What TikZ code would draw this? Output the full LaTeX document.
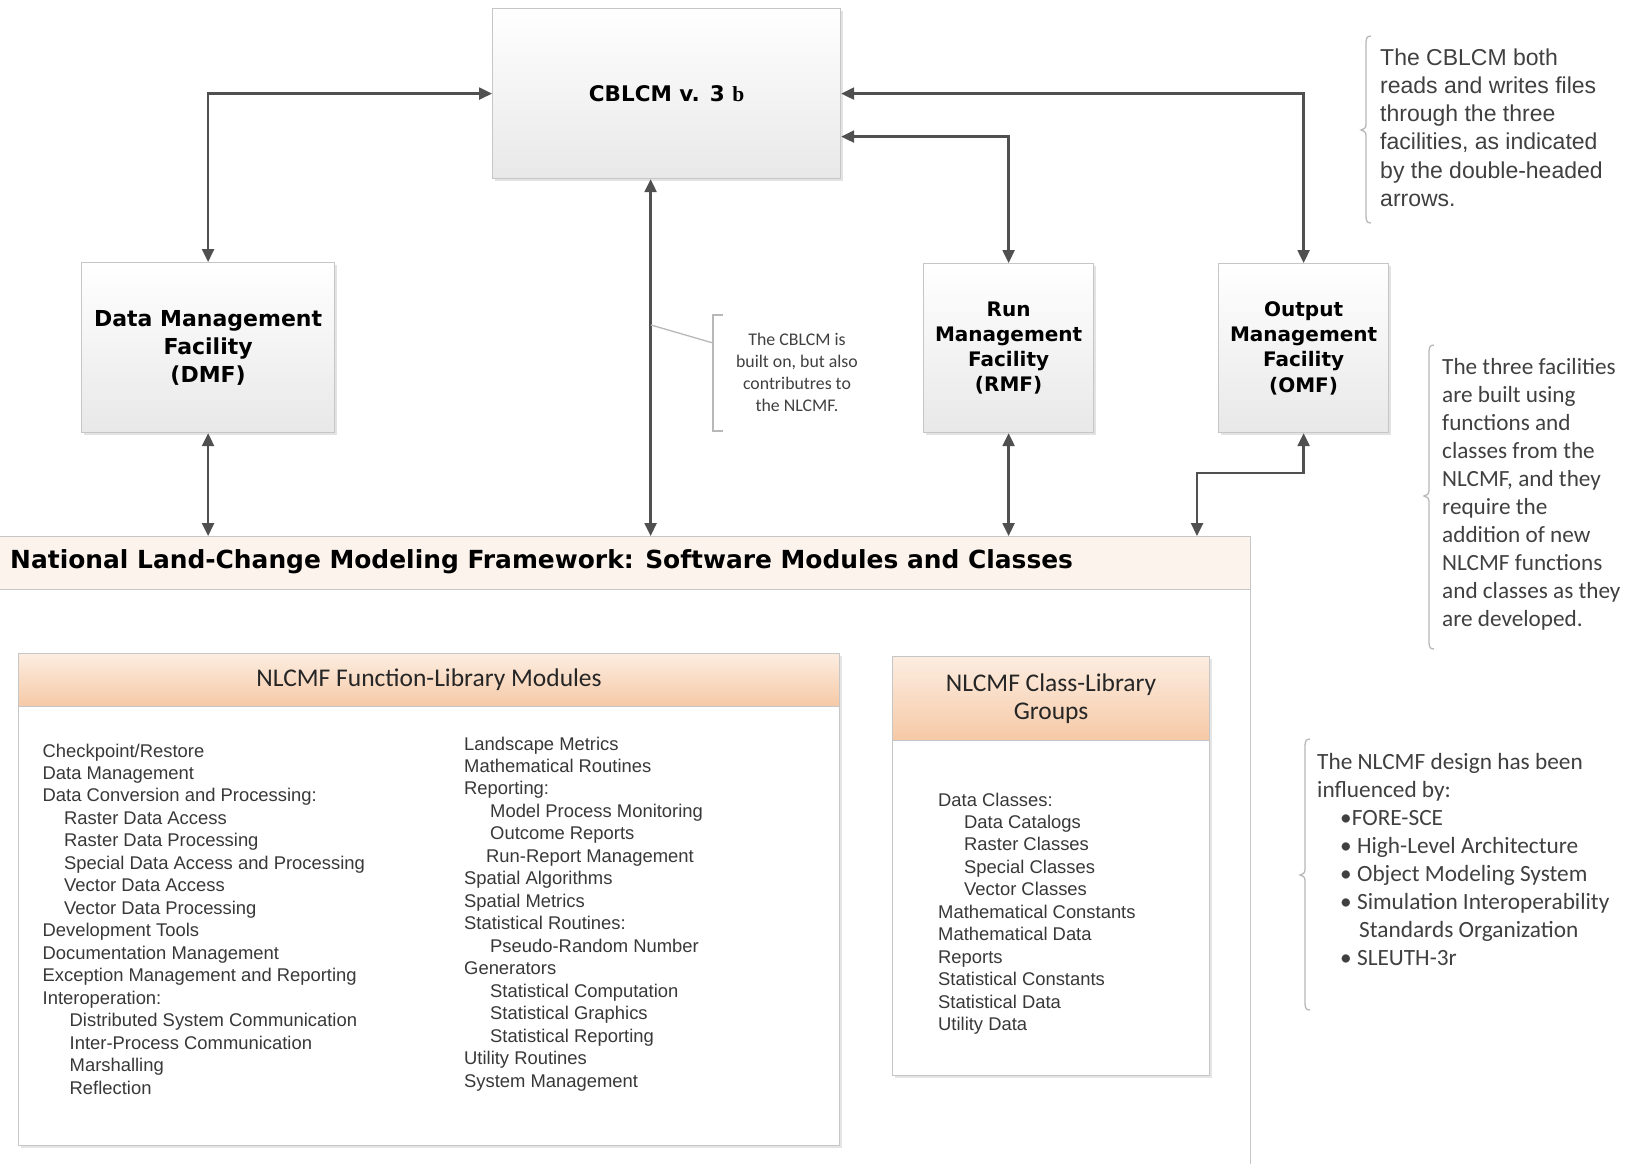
\documentclass[tikz,border=0pt]{standalone}
\usepackage{fontspec}
\setmainfont{Liberation Sans}
\newfontfamily\boldfam{DejaVu Sans}
\newfontfamily\calib{Carlito}
\newfontfamily\serifam{Liberation Serif}
\usetikzlibrary{arrows.meta,shadows,calc}
\definecolor{arrowgray}{HTML}{505050}
\definecolor{boxline}{HTML}{C6C6C6}
\definecolor{peachtop}{HTML}{FCEDE1}
\definecolor{peachbot}{HTML}{F6C9A6}
\definecolor{headerpeach}{HTML}{FCF3EC}
\definecolor{txtgray}{HTML}{383838}
\definecolor{notegray}{HTML}{404040}
\definecolor{bracegray}{HTML}{B8B8B8}
\newcommand\mybrace[4]{%
  \draw[bracegray, line width=1.3pt] (#1+10,#2) .. controls (#1+5,#2) and (#1+5,#2+3) .. (#1+5,#2+10)
    -- (#1+5,#3-9) .. controls (#1+5,#3-2) .. (#1,#3) .. controls (#1+5,#3+2) .. (#1+5,#3+9)
    -- (#1+5,#4-10) .. controls (#1+5,#4-3) and (#1+5,#4) .. (#1+10,#4);}
\tikzset{
  facility/.style={draw=boxline, line width=1.2pt, top color=white, bottom color=gray!18,
    inner sep=0pt, anchor=north west, align=center, text=black,
    drop shadow={shadow xshift=2pt, shadow yshift=-2pt, opacity=0.22, fill=gray}},
  panel/.style={draw=boxline, line width=1.2pt, fill=white, inner sep=0pt, anchor=north west,
    drop shadow={shadow xshift=2pt, shadow yshift=-2pt, opacity=0.2, fill=gray}},
  peachhead/.style={draw=boxline, line width=1.2pt, top color=peachtop, bottom color=peachbot,
    inner sep=0pt, anchor=north west, align=center, text=black!85,
    font=\calib\fontsize{25.5}{28}\selectfont},
  conn/.style={draw=arrowgray, line width=2.4pt,
    {Triangle[length=13pt,width=12pt]}-{Triangle[length=13pt,width=12pt]}},
  listtext/.style={anchor=base west, align=left, inner sep=0pt, text=txtgray,
    font=\fontsize{18.4}{22.48}\selectfont},
  note/.style={anchor=base west, align=left, inner sep=0pt, text=notegray},
}
\begin{document}
\begin{tikzpicture}[x=1pt,y=-1pt]
\useasboundingbox[fill=white] (0,0) rectangle (1627,1163);

% top boxes
\node[facility, minimum width=348pt, minimum height=170pt,
  font=\boldfam\bfseries\fontsize{21.5}{26}\selectfont] (cblcm) at (492,8) {CBLCM v. 3 {\serifam\bfseries b}};
\node[facility, minimum width=253pt, minimum height=170pt,
  font=\boldfam\bfseries\fontsize{22}{28}\selectfont] (dmf) at (81,262) {Data Management\\Facility\\(DMF)};
\node[facility, minimum width=170pt, minimum height=169pt,
  font=\boldfam\bfseries\fontsize{20}{25.2}\selectfont] (rmf) at (923,263) {Run\\Management\\Facility\\(RMF)};
\node[facility, minimum width=170pt, minimum height=169pt,
  font=\boldfam\bfseries\fontsize{20}{25.2}\selectfont] (omf) at (1218,263) {Output\\Management\\Facility\\(OMF)};

% NLCMF frame
\node[draw=boxline, line width=1.4pt, fill=white, inner sep=0pt, anchor=north west,
  minimum width=1252pt, minimum height=660pt] (nlcmf) at (-2,536) {};
\node[draw=boxline, line width=1.4pt, fill=headerpeach, inner sep=0pt, anchor=north west,
  minimum width=1252pt, minimum height=53pt] (nlhead) at (-2,536) {};
\node[anchor=west, inner sep=0pt, text=black, font=\boldfam\bfseries\fontsize{24.9}{28}\selectfont]
  (nltitle) at (10,562) {National Land-Change Modeling Framework: Software Modules and Classes};

% function library
\node[panel, minimum width=821pt, minimum height=492pt] (fbox) at (18,653) {};
\node[peachhead, minimum width=821pt, minimum height=53pt] (fhead) at (18,653) {NLCMF Function-Library Modules};
\node[listtext] (flist1) at (42.5,1094.2) {Checkpoint/Restore\\Data Management\\Data Conversion and Processing:\\
\hspace*{21.5pt}Raster Data Access\\\hspace*{21.5pt}Raster Data Processing\\\hspace*{21.5pt}Special Data Access and Processing\\
\hspace*{21.5pt}Vector Data Access\\\hspace*{21.5pt}Vector Data Processing\\Development Tools\\Documentation Management\\
Exception Management and Reporting\\Interoperation:\\\hspace*{27pt}Distributed System Communication\\
\hspace*{27pt}Inter-Process Communication\\\hspace*{27pt}Marshalling\\\hspace*{27pt}Reflection};
\node[listtext] (flist2) at (464,1087.2) {Landscape Metrics\\Mathematical Routines\\Reporting:\\
\hspace*{26pt}Model Process Monitoring\\\hspace*{26pt}Outcome Reports\\\hspace*{22pt}Run-Report Management\\
Spatial Algorithms\\Spatial Metrics\\Statistical Routines:\\\hspace*{26pt}Pseudo-Random Number\\Generators\\
\hspace*{26pt}Statistical Computation\\\hspace*{26pt}Statistical Graphics\\\hspace*{26pt}Statistical Reporting\\
Utility Routines\\System Management};

% class library
\node[panel, minimum width=317pt, minimum height=419pt] (cbox) at (892,656) {};
\node[peachhead, minimum width=317pt, minimum height=84pt] (chead) at (892,656) {NLCMF Class-Library\\Groups};
\node[listtext] (clist) at (938,1030.8) {Data Classes:\\\hspace*{26pt}Data Catalogs\\\hspace*{26pt}Raster Classes\\
\hspace*{26pt}Special Classes\\\hspace*{26pt}Vector Classes\\Mathematical Constants\\Mathematical Data\\Reports\\
Statistical Constants\\Statistical Data\\Utility Data};

% connectors
\draw[conn] (dmf.north) |- (cblcm.west);
\draw[conn] (omf.north) |- (cblcm.east);
\draw[conn] (rmf.north) |- ([yshift=-43pt]cblcm.east);
\coordinate (cdown) at ([xshift=-16pt]cblcm.south);
\draw[conn] (cdown) -- (cdown |- nlcmf.north);
\draw[conn] (dmf.south) -- (dmf.south |- nlcmf.north);
\draw[conn] (rmf.south) -- (rmf.south |- nlcmf.north);
\coordinate (omfbend) at (1197,473);
\draw[conn] (omf.south) |- (omfbend) -- (omfbend |- nlcmf.north);

% callout in the middle
\coordinate (calfrom) at (651,325);
\coordinate (calto) at (713,343);
\draw[bracegray, line width=1.3pt] (calfrom) -- (calto);
\draw[bracegray, line width=1.3pt] (723,315) -- (713,315) -- (713,431) -- (723,431);
\node[anchor=base, align=center, inner sep=0pt, text=notegray, font=\calib\fontsize{17.8}{22.3}\selectfont]
  (calnote) at (797,411.9) {The CBLCM is\\built on, but also\\contributres to\\the NLCMF.};

% right notes
\mybrace{1361}{36}{130}{223}
\node[note, font=\fontsize{23}{28.3}\selectfont] (note1) at (1380,206.5)
  {The CBLCM both\\reads and writes files\\through the three\\facilities, as indicated\\by the double-headed\\arrows.};
\mybrace{1424}{345}{496}{649}
\node[note, font=\calib\fontsize{23.2}{28.1}\selectfont] (note2) at (1442,626.9)
  {The three facilities\\are built using\\functions and\\classes from the\\NLCMF, and they\\require the\\addition of new\\NLCMF functions\\and classes as they\\are developed.};
\mybrace{1300}{739}{875}{1010}
\node[note, font=\calib\fontsize{23.3}{28}\selectfont] (note3) at (1317,965)
  {The NLCMF design has been\\influenced by:\\\hspace*{23pt}•FORE-SCE\\\hspace*{23pt}• High-Level Architecture\\
  \hspace*{23pt}• Object Modeling System\\\hspace*{23pt}• Simulation Interoperability\\\hspace*{42pt}Standards Organization\\
  \hspace*{23pt}• SLEUTH-3r};
\end{tikzpicture}
\end{document}
